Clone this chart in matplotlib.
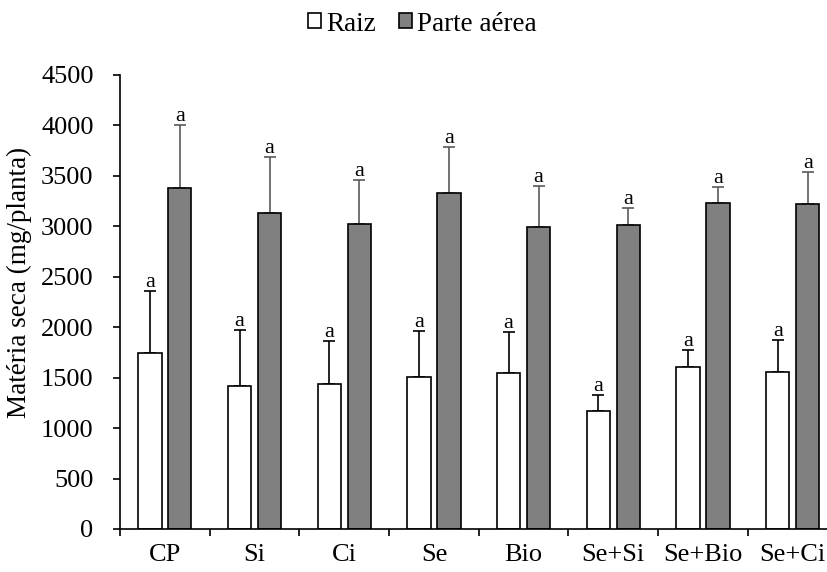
import matplotlib.pyplot as plt
import numpy as np

plt.rcParams['font.family'] = ['Liberation Serif', 'DejaVu Serif']

categories = ['CP', 'Si', 'Ci', 'Se', 'Bio', 'Se+Si', 'Se+Bio', 'Se+Ci']
raiz = [1741, 1420, 1437, 1506, 1549, 1166, 1609, 1556]
raiz_err = [621, 555, 429, 459, 406, 165, 162, 314]
aerea = [3383, 3132, 3026, 3327, 2990, 3016, 3228, 3224]
aerea_err = [621, 552, 430, 459, 406, 165, 161, 317]
letras_raiz = ['a'] * 8
letras_aerea = ['a'] * 8

fig = plt.figure(figsize=(8.27, 5.72), dpi=100)
ax = fig.add_axes([0.1451, 0.0752, 0.8677, 0.7937])

x = np.arange(len(categories)) + 0.5
w = 0.26
off = 0.167

b1 = ax.bar(x - off, raiz, w, color='white', edgecolor='black', linewidth=1.2,
            label='Raiz', zorder=2)
b2 = ax.bar(x + off, aerea, w, color='#808080', edgecolor='black', linewidth=1.2,
            label='Parte aérea', zorder=2)

ax.errorbar(x - off, raiz, yerr=[np.zeros(8), raiz_err], fmt='none',
            ecolor='black', elinewidth=1.2, capsize=4, capthick=1.2, zorder=1)
ax.errorbar(x + off, aerea, yerr=[np.zeros(8), aerea_err], fmt='none',
            ecolor='#5a5a5a', elinewidth=1.2, capsize=4, capthick=1.2, zorder=1)

for xi, v, e, l in zip(x - off, raiz, raiz_err, letras_raiz):
    ax.annotate(l, (xi, v + e), xytext=(0, 3), textcoords='offset points',
                ha='center', va='baseline', fontsize=16)
for xi, v, e, l in zip(x + off, aerea, aerea_err, letras_aerea):
    ax.annotate(l, (xi, v + e), xytext=(0, 3), textcoords='offset points',
                ha='center', va='baseline', fontsize=16)

ax.set_xlim(0, 8)
ax.set_ylim(0, 4500)
ax.set_yticks(np.arange(0, 4501, 500))
ax.tick_params(axis='y', labelsize=19, direction='out', length=5, width=1.2, pad=14)

# category boundaries as ticks, names centred via minor ticks
ax.set_xticks(np.arange(0, 9))
ax.set_xticklabels([])
ax.set_xticks(x, minor=True)
ax.set_xticklabels(categories, minor=True, fontsize=19)
ax.tick_params(axis='x', which='major', direction='out', length=5, width=1.2)
ax.tick_params(axis='x', which='minor', length=0, pad=11)

ax.set_ylabel('Matéria seca (mg/planta)', fontsize=19.5)
ax.yaxis.set_label_coords(-0.122, 0.543)

for s in ['top', 'right']:
    ax.spines[s].set_visible(False)
for s in ['left', 'bottom']:
    ax.spines[s].set_linewidth(1.2)

fig.legend(handles=[b1, b2], loc='center', bbox_to_anchor=(0.511, 0.958),
           ncol=2, frameon=False, fontsize=19.5, handlelength=0.48, handleheight=0.48,
           handletextpad=0.19, columnspacing=0.85, borderpad=0)

fig.savefig('out.png', dpi=100)
